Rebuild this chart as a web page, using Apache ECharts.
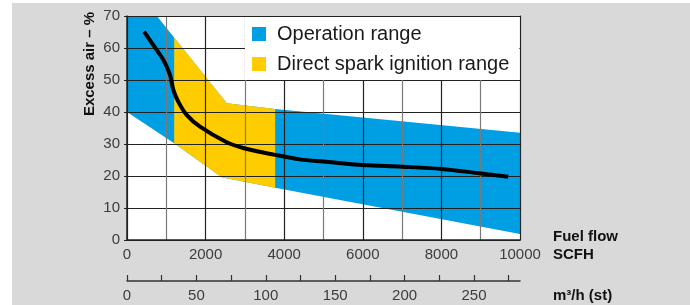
<!DOCTYPE html>
<html>
<head>
<meta charset="utf-8">
<script src="https://cdn.jsdelivr.net/npm/echarts@6/dist/echarts.min.js"></script>
<style>
  body { margin: 0; background: #fff; }
  #main { width: 690px; height: 305px; background: #d9d9d9; border-top: 3px solid #fff; border-left: 12px solid #fff; box-sizing: border-box; }
</style>
</head>
<body>
<div id="main"></div>
<script>
// envelope of the operation range (SCFH, excess air %)
var opUpper = [[0, 70], [760, 70], [2540, 42.7], [3770, 40.9], [10000, 33.5]];
var opLower = [[0, 40], [1200, 30.2], [2410, 19.6], [3770, 16.3], [10000, 1.9]];
// direct spark ignition range
var sparkUpper = [[1200, 63.3], [2540, 42.7], [3770, 40.9]];
var sparkLower = [[1200, 30.2], [2410, 19.6], [3770, 16.3]];
// black curve
var curve = [[433, 65.1], [670, 60.9], [924, 56.3], [1094, 51.6], [1179, 46.9], [1306, 43.2],
  [1518, 39.1], [1858, 35.4], [2500, 30.8], [3000, 28.6], [3770, 26.6], [4400, 25.2],
  [5000, 24.5], [6000, 23.4], [7000, 22.9], [8000, 22.2], [9000, 20.8], [9700, 19.8]];

var xLabels = [0, 2000, 4000, 6000, 8000, 10000];
var m3Ticks = [0, 25, 50, 75, 100, 125, 150, 175, 200, 225, 250, 275];
var m3Labels = [0, 50, 100, 150, 200, 250];
var SCFH_PER_M3 = 35.3147;

var font = "'Liberation Sans', Arial, sans-serif";
var nameStyle = { fontWeight: 'bold', fontSize: 15, color: '#111', fontFamily: font };

function band(upper, lower) {
  return function (params, api) {
    var pts = upper.concat(lower.slice().reverse()).map(function (p) { return api.coord(p); });
    return {
      type: 'polygon',
      shape: { points: pts },
      style: { fill: api.visual('color') }
    };
  };
}

var myChart = echarts.init(document.getElementById('main'));
myChart.setOption({
  animation: false,
  textStyle: { fontFamily: font },
  grid: { left: 115, right: 170, top: 13, bottom: 65, show: true, backgroundColor: '#fff', borderWidth: 0 },
  legend: {
    data: ['Operation range', 'Direct spark ignition range'],
    orient: 'vertical',
    left: 233, top: 14,
    icon: 'rect', itemWidth: 14, itemHeight: 14, itemGap: 10,
    backgroundColor: '#fff',
    padding: [7, 10, 6, 7],
    selectedMode: false,
    z: 4,
    textStyle: { fontSize: 20, color: '#1a1a1a', lineHeight: 20, padding: [0, 0, 0, 6], fontFamily: font }
  },
  xAxis: [{
    type: 'value', min: 0, max: 10000, interval: 1000, position: 'bottom', z: 3,
    axisLine: { onZero: false, lineStyle: { color: '#222', width: 1.5 } },
    axisTick: { show: false },
    axisLabel: {
      fontSize: 15, color: '#3c3c3c', margin: 7,
      formatter: function (v) { return xLabels.indexOf(v) >= 0 ? String(v) : ''; }
    },
    splitLine: { show: true, lineStyle: { color: ['#222', '#7a7a7a'], width: 1.2 } },
    name: '{g| }\n{t|Fuel flow}\n{t|SCFH}', nameLocation: 'end', nameGap: 33, nameMoveOverlap: false,
    nameTextStyle: {
      align: 'left', verticalAlign: 'middle',
      rich: { g: { lineHeight: 12, height: 12 }, t: Object.assign({ lineHeight: 18 }, nameStyle) }
    }
  }, {
    type: 'value', min: 0, max: 10000 / SCFH_PER_M3, position: 'bottom', offset: 41, z: 3,
    axisLine: { show: true, onZero: false, lineStyle: { color: '#333', width: 1.5 } },
    axisTick: { show: true, inside: true, length: 6, customValues: m3Ticks, lineStyle: { color: '#333', width: 1.2 } },
    axisLabel: { fontSize: 15, color: '#3c3c3c', margin: 7, customValues: m3Labels },
    splitLine: { show: false },
    name: '{g| }\n{t|m³/h (st)}', nameLocation: 'end', nameGap: 33, nameMoveOverlap: false,
    nameTextStyle: {
      align: 'left', verticalAlign: 'middle',
      rich: { g: { lineHeight: 30, height: 30 }, t: Object.assign({ lineHeight: 18 }, nameStyle) }
    }
  }, {
    type: 'value', min: 0, max: 10000, position: 'top', z: 3,
    axisLine: { show: true, onZero: false, lineStyle: { color: '#222', width: 1 } },
    axisTick: { show: false }, axisLabel: { show: false }, splitLine: { show: false }
  }],
  yAxis: [{
    type: 'value', min: 0, max: 70, interval: 10, z: 3,
    axisLine: { show: true, onZero: false, lineStyle: { color: '#222', width: 1.5 } },
    axisTick: { show: true, length: 3, lineStyle: { color: '#222' } },
    axisLabel: { fontSize: 15, color: '#3c3c3c', margin: 7 },
    splitLine: { show: true, lineStyle: { color: '#222', width: 1.2 } },
    name: 'Excess air – %', nameLocation: 'middle', nameRotate: 90, nameGap: 30, nameMoveOverlap: false,
    nameTextStyle: Object.assign({ padding: [0, 0, 0, 128] }, nameStyle)
  }, {
    type: 'value', min: 0, max: 70, position: 'right', z: 3,
    axisLine: { show: true, onZero: false, lineStyle: { color: '#222', width: 1 } },
    axisTick: { show: false }, axisLabel: { show: false }, splitLine: { show: false }
  }],
  series: [{
    name: 'Operation range', type: 'custom', z: 1,
    itemStyle: { color: '#009fe3' },
    renderItem: band(opUpper, opLower),
    data: [[0, 0]], silent: true
  }, {
    name: 'Direct spark ignition range', type: 'custom', z: 1,
    itemStyle: { color: '#ffcc00' },
    renderItem: band(sparkUpper, sparkLower),
    data: [[0, 0]], silent: true
  }, {
    name: 'Excess air', type: 'line', z: 5,
    data: curve, smooth: 0.35, showSymbol: false, symbol: 'none',
    lineStyle: { color: '#000', width: 4 }, silent: true
  }]
});
</script>
</body>
</html>
